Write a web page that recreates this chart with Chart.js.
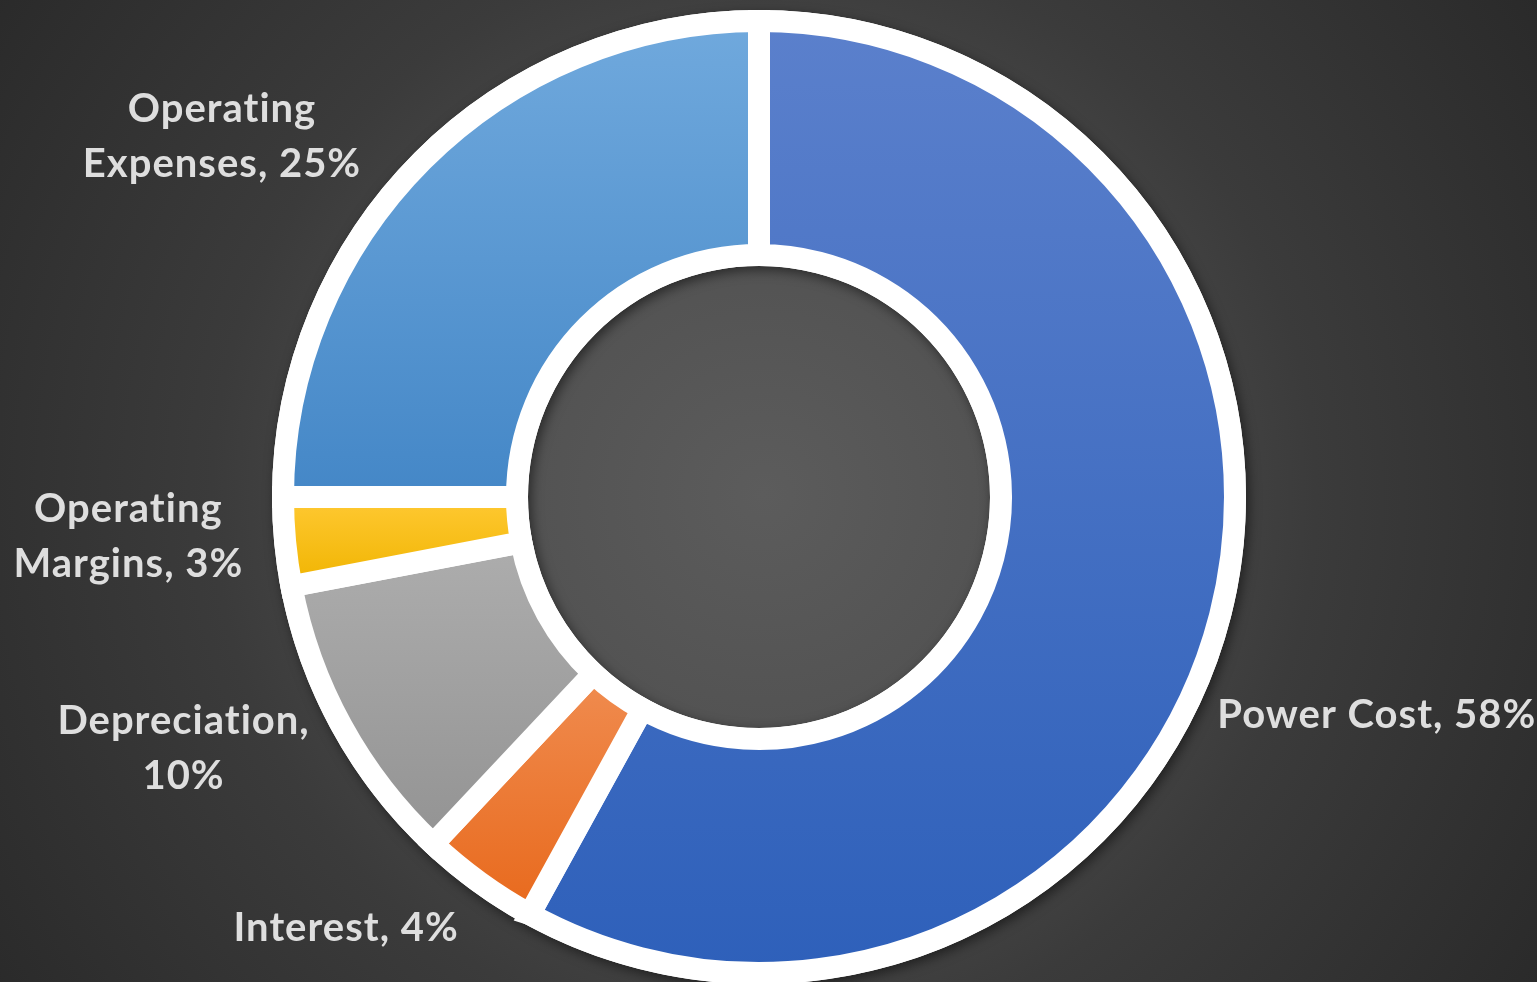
<!DOCTYPE html>
<html>
<head>
<meta charset="utf-8">
<script src="https://cdn.jsdelivr.net/npm/chart.js@4"></script>
<style>
  html, body { margin: 0; padding: 0; background: #333; }
  #wrap { position: relative; width: 1537px; height: 982px; }
</style>
</head>
<body>
<div id="wrap"><canvas id="c" width="1537" height="982"></canvas></div>
<script>
// ---- data ----
const categories = ['Power Cost', 'Interest', 'Depreciation', 'Operating Margins', 'Operating Expenses'];
const shares = [58, 4, 10, 3, 25];

// ---- styling ----
const gradTop    = ['#5b80cc', '#f08c50', '#adadad', '#ffc933', '#70a9dd'];
const gradBottom = ['#2e60ba', '#e8691c', '#939393', '#f0b400', '#4487c7'];
const labelNudge = [[-25, 87], [-7, 5], [-12, -15], [-19, -13], [-45, 31]];
const BORDER = 22;
const LABEL_FONT = '700 40px Lato';
const LINE_H = 55;
const WRAP_W = 326;

const bgPlugin = {
  id: 'bg',
  beforeDraw(chart) {
    const ctx = chart.ctx;
    const w = chart.width, h = chart.height;
    const g = ctx.createRadialGradient(764, 494, 0, 764, 494, 920);
    g.addColorStop(0, '#5c5c5c');
    g.addColorStop(0.28, '#525252');
    g.addColorStop(0.6, '#3b3b3b');
    g.addColorStop(1, '#2a2a2a');
    ctx.save();
    ctx.fillStyle = g;
    ctx.fillRect(0, 0, w, h);
    ctx.restore();
  }
};

function arcYRange(a) {
  let minY = Infinity, maxY = -Infinity;
  const n = 60;
  for (let i = 0; i <= n; i++) {
    const t = a.startAngle + (a.endAngle - a.startAngle) * i / n;
    for (const r of [a.innerRadius, a.outerRadius]) {
      const y = a.y + Math.sin(t) * r;
      minY = Math.min(minY, y); maxY = Math.max(maxY, y);
    }
  }
  return [minY, maxY];
}

const ringPlugin = {
  id: 'ring',
  beforeDatasetsDraw(chart) {
    const ctx = chart.ctx;
    const meta = chart.getDatasetMeta(0);
    const a0 = meta.data[0];
    if (!a0) return;
    const {x, y, outerRadius, innerRadius} = a0.getProps(['x', 'y', 'outerRadius', 'innerRadius'], true);
    ctx.save();
    ctx.beginPath();
    ctx.arc(x, y, outerRadius + BORDER / 2, 0, Math.PI * 2);
    ctx.arc(x, y, innerRadius - BORDER / 2, 0, Math.PI * 2, true);
    ctx.closePath();
    ctx.shadowColor = 'rgba(0,0,0,0.5)';
    ctx.shadowBlur = 12;
    ctx.shadowOffsetX = 3;
    ctx.shadowOffsetY = 4;
    ctx.fillStyle = '#ffffff';
    ctx.fill('evenodd');
    ctx.restore();
    meta.data.forEach((arc, i) => {
      const p = arc.getProps(['x', 'y', 'startAngle', 'endAngle', 'innerRadius', 'outerRadius'], true);
      const [y0, y1] = arcYRange(p);
      const g = ctx.createLinearGradient(0, y0, 0, y1);
      g.addColorStop(0, gradTop[i]);
      g.addColorStop(1, gradBottom[i]);
      arc.options.backgroundColor = g;
    });
  }
};

// two-line balanced wrap when the label is too wide
function wrapText(ctx, text, maxW) {
  if (ctx.measureText(text).width <= maxW) return [text];
  const words = text.split(' ');
  let best = null, bestW = Infinity;
  for (let k = 1; k < words.length; k++) {
    const a = words.slice(0, k).join(' '), b = words.slice(k).join(' ');
    const m = Math.max(ctx.measureText(a).width, ctx.measureText(b).width);
    if (m < bestW) { bestW = m; best = [a, b]; }
  }
  return best || [text];
}

const labelPlugin = {
  id: 'outLabels',
  afterDatasetsDraw(chart) {
    const ctx = chart.ctx;
    const meta = chart.getDatasetMeta(0);
    const total = shares.reduce((s, v) => s + v, 0);
    ctx.save();
    ctx.font = LABEL_FONT;
    try { ctx.letterSpacing = '1px'; } catch (e) {}
    ctx.fillStyle = '#dedede';
    ctx.textBaseline = 'middle';
    ctx.textAlign = 'center';
    meta.data.forEach((arc, i) => {
      const p = arc.getProps(['x', 'y', 'startAngle', 'endAngle', 'outerRadius'], true);
      const mid = (p.startAngle + p.endAngle) / 2;
      const dx = Math.cos(mid), dy = Math.sin(mid);
      const r = p.outerRadius + BORDER / 2 + 12;
      const px = p.x + dx * r, py = p.y + dy * r;
      const txt = categories[i] + ', ' + Math.round(shares[i] / total * 100) + '%';
      const lines = wrapText(ctx, txt, WRAP_W);
      const w = Math.max(...lines.map(l => ctx.measureText(l).width));
      const h = lines.length * LINE_H;
      let cx;
      if (dx >= 0) cx = px + labelNudge[i][0] + w / 2;
      else cx = px + labelNudge[i][0] - w / 2;
      const cy = py + dy * h / 2 + labelNudge[i][1];
      lines.forEach((l, k) => {
        ctx.fillText(l, cx, cy + (k - (lines.length - 1) / 2) * LINE_H);
      });
    });
    ctx.restore();
  }
};

new Chart(document.getElementById('c'), {
  type: 'doughnut',
  data: {
    labels: categories,
    datasets: [{
      data: shares,
      backgroundColor: gradTop,
      borderColor: '#ffffff',
      borderWidth: BORDER,
      borderAlign: 'center',
      borderJoinStyle: 'miter',
      hoverOffset: 0,
      clip: false
    }]
  },
  options: {
    responsive: false,
    animation: false,
    devicePixelRatio: 1,
    radius: 476,
    cutout: '50.84%',
    layout: { padding: { left: 0, right: 19, top: 12, bottom: 0 } },
    plugins: {
      legend: { display: false },
      tooltip: { enabled: false }
    },
    events: []
  },
  plugins: [bgPlugin, ringPlugin, labelPlugin]
});
</script>
</body>
</html>
